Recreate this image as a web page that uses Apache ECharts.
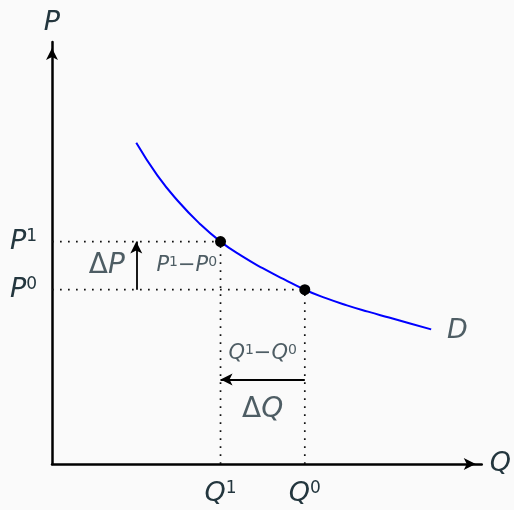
<!DOCTYPE html>
<html>
<head>
<meta charset="utf-8">
<script src="https://cdn.jsdelivr.net/npm/echarts@6/dist/echarts.min.js"></script>
<style>
  html, body { margin: 0; background: #fafafa; }
  #main { width: 514px; height: 510px; }
</style>
</head>
<body>
<div id="main"></div>
<script>
// demand curve D (quantity, price)
const demandQ = [2, 2.5, 3, 3.5, 4, 4.5, 5, 5.5, 6, 6.5, 7, 7.5, 8, 8.5, 9];
const demandP = [7.61, 6.84, 6.22, 5.70, 5.27, 4.93, 4.64, 4.38, 4.13, 3.93, 3.76, 3.61, 3.47, 3.33, 3.19];

// the two marked points: (Q1, P1) and (Q0, P0)
const qValues = [4, 6];
const pValues = [5.27, 4.13];
const qTickNames = ['Q¹', 'Q⁰'];
const pTickNames = ['P¹', 'P⁰'];

const textColor = '#23363e';
const fontFamily = 'DejaVu Sans';

const chart = echarts.init(document.getElementById('main'));

const [q1, q0] = qValues;
const [p1, p0] = pValues;

// rich styles: italic letter + upright superscript
const rich = {
    i: { fontSize: 27, fontStyle: 'italic', color: textColor, fontFamily: fontFamily },
    s: { fontSize: 17, color: textColor, fontFamily: fontFamily, verticalAlign: 'top' },
    si: { fontSize: 21, fontStyle: 'italic', color: textColor, fontFamily: fontFamily },
    ss: { fontSize: 14, color: textColor, fontFamily: fontFamily, verticalAlign: 'top' },
    sm: { fontSize: 21, color: textColor, fontFamily: fontFamily },
    d: { fontSize: 28, color: textColor, fontFamily: fontFamily },
    di: { fontSize: 28, fontStyle: 'italic', color: textColor, fontFamily: fontFamily },
    n: { fontSize: 27, fontStyle: 'italic', color: textColor, fontFamily: fontFamily }
};

const tickLabel = (name) => '{i|' + name[0] + '}{s|' + (name[1] === '¹' ? '1' : '0') + '}';

const dotted = { color: '#111', width: 1.7, type: [1.7, 6.3] };

function guide(points) {
    return {
        type: 'line',
        data: points,
        symbol: 'none',
        lineStyle: dotted,
        silent: true,
        z: 1
    };
}

function textMark(x, y, formatter) {
    return { value: [x, y], label: { formatter: formatter } };
}

const axisLine = {
    onZero: false,
    symbol: ['none', 'arrow'],
    symbolSize: [9, 12],
    symbolOffset: [0, -6],
    lineStyle: { color: '#000', width: 2.5 }
};

const option = {
    backgroundColor: '#fafafa',
    animation: false,
    grid: { left: 52, right: 31, top: 42, bottom: 46 },
    xAxis: {
        type: 'value',
        min: 0,
        max: 10.2,
        splitLine: { show: false },
        axisTick: { show: false },
        axisLine: axisLine,
        axisLabel: {
            customValues: qValues,
            margin: 16,
            formatter: (v) => tickLabel(qTickNames[qValues.indexOf(v)]),
            rich: rich
        },
        name: '{n|Q}',
        nameLocation: 'end',
        nameGap: 8,
        nameTextStyle: { rich: rich }
    },
    yAxis: {
        type: 'value',
        min: 0,
        max: 10,
        splitLine: { show: false },
        axisTick: { show: false },
        axisLine: axisLine,
        axisLabel: {
            customValues: pValues,
            margin: 15,
            formatter: (v) => tickLabel(pTickNames[pValues.indexOf(v)]),
            rich: rich
        },
        name: '{n|P}',
        nameLocation: 'end',
        nameGap: 6,
        nameTextStyle: { rich: rich, align: 'center' }
    },
    series: [
        guide([[0, p1], [q1, p1]]),
        guide([[0, p0], [q0, p0]]),
        guide([[q1, 0], [q1, p1]]),
        guide([[q0, 0], [q0, p0]]),
        {
            type: 'line',
            smooth: 0.5,
            symbol: 'none',
            data: demandQ.map((q, i) => [q, demandP[i]]),
            lineStyle: { color: '#0000ff', width: 2 },
            z: 3
        },
        {
            type: 'scatter',
            data: [[q1, p1], [q0, p0]],
            symbolSize: 11,
            itemStyle: { color: '#000', opacity: 1 },
            z: 4,
            // change arrows
            markLine: {
                silent: true,
                symbol: ['none', 'arrow'],
                symbolSize: [9, 12],
                label: { show: false },
                lineStyle: { color: '#000', width: 1.8, type: 'solid' },
                data: [
                    [{ coord: [2, p0] }, { coord: [2, p1] }],
                    [{ coord: [q0, 2] }, { coord: [q1, 2] }]
                ]
            }
        },
        {
            type: 'scatter',
            symbolSize: 0,
            silent: true,
            label: { show: true, position: 'inside', color: textColor, fontFamily: fontFamily, rich: rich },
            data: [
                textMark(1.3, (p0 + p1) / 2, '{d|Δ}{di|P}'),
                textMark(3.2, (p0 + p1) / 2, '{si|P}{ss|1}{sm|−}{si|P}{ss|0}'),
                textMark((q0 + q1) / 2, 2.62, '{si|Q}{ss|1}{sm|−}{si|Q}{ss|0}'),
                textMark((q0 + q1) / 2, 1.28, '{d|Δ}{di|Q}'),
                textMark(9.62, 3.15, '{n|D}')
            ]
        }
    ]
};

chart.setOption(option);
</script>
</body>
</html>
